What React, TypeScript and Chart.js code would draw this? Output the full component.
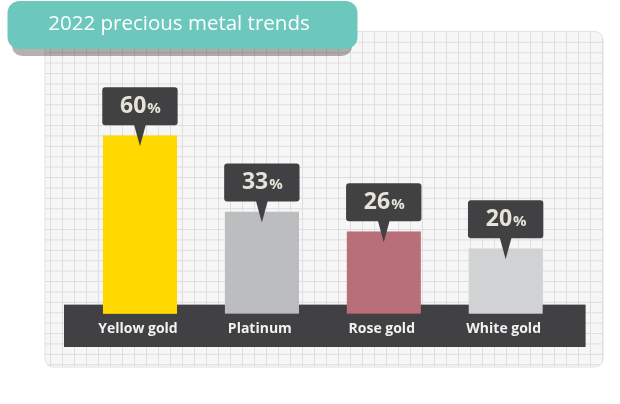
import React, { useEffect, useRef } from "react";
import { Chart, registerables } from "chart.js";
Chart.register(...registerables);

const title = "2022 precious metal trends";
const categories = ["Yellow gold", "Platinum", "Rose gold", "White gold"];
const values = [60, 33, 26, 20];
const barColors = ["#FFD900", "#BCBDBF", "#B86F7A", "#D1D2D4"];
const barEdgeColors = ["#E6C300", "#8F9092", "#9A5A63", "#A7A8AA"];
const unit = "%";

const FONT = "'Open Sans', sans-serif";
const DARK = "#414042";

export default function App() {
  const ref = useRef<HTMLCanvasElement>(null);
  useEffect(() => {
    document.body.style.margin = "0";
    const canvas = ref.current;
    if (!canvas) return;

    const decor = {
      id: "decor",
      beforeDraw(chart: any) {
        const ctx = chart.ctx as CanvasRenderingContext2D;
        // grid panel
        const px = 45, py = 31.5, pw = 558, ph = 335.5;
        ctx.save();
        ctx.beginPath();
        (ctx as any).roundRect(px, py, pw, ph, 8);
        ctx.fillStyle = "#f6f6f6";
        ctx.fill();
        ctx.strokeStyle = "#e2e2e2";
        ctx.lineWidth = 1;
        ctx.stroke();
        ctx.clip();
        ctx.strokeStyle = "#dedede";
        ctx.beginPath();
        for (let x = 50.5; x < px + pw; x += 12) {
          ctx.moveTo(x, py);
          ctx.lineTo(x, py + ph);
        }
        for (let y = 42.3; y < py + ph; y += 10.4) {
          ctx.moveTo(px, y);
          ctx.lineTo(px + pw, y);
        }
        ctx.stroke();
        ctx.restore();

        // dark band
        const ys = chart.scales.y;
        const zero = ys.getPixelForValue(0);
        const { left, right, bottom } = chart.chartArea;
        ctx.save();
        ctx.fillStyle = DARK;
        ctx.fillRect(left - 15, zero, right - left + 34, bottom - zero);
        ctx.restore();
      },
      afterDatasetsDraw(chart: any) {
        const ctx = chart.ctx as CanvasRenderingContext2D;
        const xs = chart.scales.x;
        const ys = chart.scales.y;
        const zero = ys.getPixelForValue(0);
        const { bottom } = chart.chartArea;
        ctx.save();
        ctx.fillStyle = "#f2f2f2";
        ctx.font = `bold 14px ${FONT}`;
        ctx.textAlign = "center";
        ctx.textBaseline = "middle";
        categories.forEach((c, i) => {
          ctx.fillText(c, xs.getPixelForValue(i) - 2, zero + (bottom - zero) / 2 + 3);
        });
        ctx.restore();

        // callouts
        const meta = chart.getDatasetMeta(0);
        meta.data.forEach((bar: any, i: number) => {
          const { x, y, width } = bar.getProps(["x", "y", "width"], true);
          const bw = width + 1;
          const boxBottom = y - 10;
          const boxTop = y - 48;
          ctx.save();
          ctx.fillStyle = DARK;
          ctx.beginPath();
          (ctx as any).roundRect(x - bw / 2, boxTop, bw, boxBottom - boxTop, 3);
          ctx.fill();
          ctx.beginPath();
          ctx.moveTo(x - 6, boxBottom - 1);
          ctx.lineTo(x + 6, boxBottom - 1);
          ctx.lineTo(x, y + 11);
          ctx.closePath();
          ctx.fill();
          const num = String(values[i]);
          ctx.fillStyle = "#E6E4D8";
          ctx.textBaseline = "alphabetic";
          ctx.textAlign = "left";
          ctx.font = `bold 23px ${FONT}`;
          const w1 = ctx.measureText(num).width;
          ctx.font = `bold 15px ${FONT}`;
          const w2 = ctx.measureText(unit).width;
          const start = x - (w1 + w2) / 2;
          ctx.font = `bold 23px ${FONT}`;
          ctx.fillText(num, start, boxTop + 26);
          ctx.font = `bold 15px ${FONT}`;
          ctx.fillText(unit, start + w1 + 1, boxTop + 26);
          ctx.restore();
        });
      },
      afterDraw(chart: any) {
        const ctx = chart.ctx as CanvasRenderingContext2D;
        ctx.save();
        // shadow
        ctx.fillStyle = "rgba(40,25,25,0.34)";
        ctx.beginPath();
        (ctx as any).roundRect(12, 10, 340, 46, 10);
        ctx.fill();
        // title box
        ctx.fillStyle = "#6CC7BD";
        ctx.beginPath();
        (ctx as any).roundRect(7.5, 1, 350, 48, 12);
        ctx.fill();
        ctx.fillStyle = "#ffffff";
        ctx.font = `20.5px ${FONT}`;
        ctx.textAlign = "center";
        ctx.textBaseline = "middle";
        ctx.fillText(title, 179, 24);
        ctx.restore();
      },
    };

    const chart = new Chart(canvas, {
      type: "bar",
      data: {
        labels: categories,
        datasets: [
          {
            data: values,
            backgroundColor: barColors,
            borderColor: barEdgeColors,
            borderWidth: { top: 0, left: 0, right: 0, bottom: 1 },
            borderSkipped: false,
            base: -3.3,
            barPercentage: 0.61,
            categoryPercentage: 1,
          } as any,
        ],
      },
      options: {
        animation: false,
        responsive: false,
        events: [],
        layout: { padding: { left: 79, right: 53.4, top: 64.5, bottom: 57 } },
        scales: {
          x: { display: false },
          y: { display: false, min: -15, max: 85 },
        },
        plugins: { legend: { display: false }, tooltip: { enabled: false } },
      },
      plugins: [decor],
    });
    return () => chart.destroy();
  }, []);

  return (
    <div style={{ width: 620, height: 404, position: "relative" }}>
      <canvas ref={ref} width={620} height={404} style={{ display: "block" }} />
    </div>
  );
}
